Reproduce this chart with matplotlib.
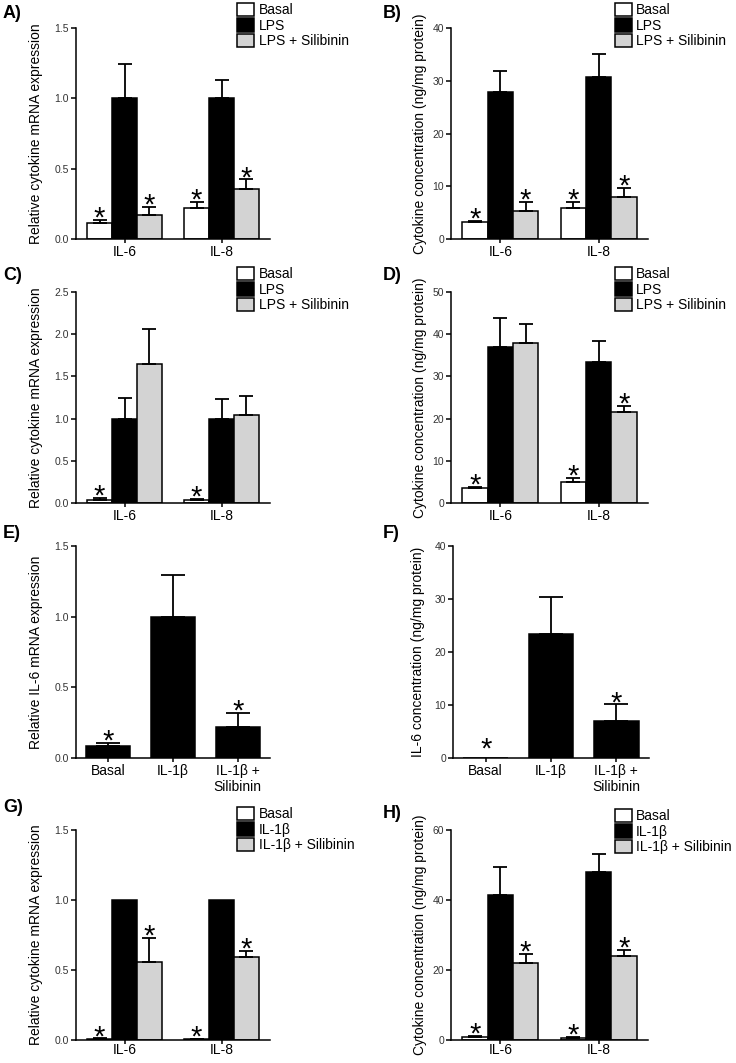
import matplotlib
matplotlib.use("Agg")
import matplotlib.pyplot as plt
from matplotlib.patches import Patch
import numpy as np

plt.rcParams['font.family'] = ['Liberation Sans', 'DejaVu Sans']

groups = ['IL-6', 'IL-8']
lps_labels = ['Basal', 'LPS', 'LPS + Silibinin']
il1b_labels = ['Basal', 'IL-1β', 'IL-1β + Silibinin']
single_labels = ['Basal', 'IL-1β', 'IL-1β +\nSilibinin']

# A) mRNA, LPS
a_basal, a_basal_err = [0.116, 0.218], [0.019, 0.047]
a_lps, a_lps_err = [1.0, 1.0], [0.242, 0.128]
a_sil, a_sil_err = [0.170, 0.357], [0.055, 0.066]
a_stars = [[1, 1], [0, 0], [1, 1]]

# B) protein, LPS
b_basal, b_basal_err = [3.2, 5.9], [0.3, 1.2]
b_lps, b_lps_err = [27.9, 30.8], [4.0, 4.2]
b_sil, b_sil_err = [5.4, 7.9], [1.7, 1.7]
b_stars = [[1, 1], [0, 0], [1, 1]]

# C) mRNA, LPS
c_basal, c_basal_err = [0.040, 0.035], [0.015, 0.012]
c_lps, c_lps_err = [1.0, 1.0], [0.240, 0.228]
c_sil, c_sil_err = [1.646, 1.047], [0.414, 0.221]
c_stars = [[1, 1], [0, 0], [0, 0]]

# D) protein, LPS
d_basal, d_basal_err = [3.5, 5.0], [0.4, 0.9]
d_lps, d_lps_err = [36.9, 33.4], [6.9, 5.1]
d_sil, d_sil_err = [37.9, 21.6], [4.4, 1.5]
d_stars = [[1, 1], [0, 0], [0, 1]]

# E) IL-6 mRNA, IL-1b
e_vals, e_err = [0.083, 1.0, 0.222], [0.026, 0.293, 0.095]
e_stars = [1, 0, 1]

# F) IL-6 protein, IL-1b
f_vals, f_err = [0.0, 23.4, 6.9], [0.0, 6.9, 3.2]
f_stars = [1, 0, 1]

# G) mRNA, IL-1b
g_basal, g_basal_err = [0.008, 0.005], [0.003, 0.002]
g_il1b, g_il1b_err = [1.0, 1.0], [0.0, 0.0]
g_sil, g_sil_err = [0.557, 0.592], [0.170, 0.043]
g_stars = [[1, 1], [0, 0], [1, 1]]

# H) protein, IL-1b
h_basal, h_basal_err = [0.95, 0.66], [0.25, 0.19]
h_il1b, h_il1b_err = [41.3, 48.0], [8.1, 5.1]
h_sil, h_sil_err = [22.1, 24.0], [2.5, 1.8]
h_stars = [[1, 1], [0, 0], [1, 1]]

colors = ['white', 'black', '#d3d3d3']
mrna_label = 'Relative cytokine mRNA expression'
prot_label = 'Cytokine concentration (ng/mg protein)'

W, H = 736, 1063
fig = plt.figure(figsize=(W / 100, H / 100), dpi=100)


def make_ax(x0, y_top, y_bot, width):
    return fig.add_axes([x0 / W, 1 - y_bot / H, width / W, (y_bot - y_top) / H])


def style_ax(ax, ymax, ystep, fmt, label, label_x, xpad=1.0):
    ticks = np.arange(0, ymax + ystep / 2, ystep)
    ax.set_ylim(0, ymax)
    ax.set_yticks(ticks)
    ax.set_yticklabels([fmt % t for t in ticks])
    ax.spines['top'].set_visible(False)
    ax.spines['right'].set_visible(False)
    for s in ['left', 'bottom']:
        ax.spines[s].set_linewidth(1.1)
    ax.tick_params(axis='y', direction='out', length=3.5, width=1.1, labelsize=7.5,
                   labelcolor='#333333', pad=1.5)
    ax.tick_params(axis='x', direction='out', length=3, width=1.1, labelsize=10, pad=xpad)
    ax.set_ylabel(label, fontsize=10)
    ax.yaxis.set_label_coords(label_x, 0.5)


def star(ax, x, top):
    # a star over an empty bar sits a little higher so it clears the tick label
    dy = -4.8 if top > 0 else 0.6
    ax.annotate('*', xy=(x, top), xytext=(0, dy), textcoords='offset points',
                ha='center', va='baseline', fontsize=21, annotation_clip=False)


def grouped(ax, series, errs, stars, legend_labels, leg_y=1.12):
    w = 1.0
    centers = np.array([1.0, 4.9])
    for i, (vals, err) in enumerate(zip(series, errs)):
        xs = centers + (i - 1) * w
        ax.bar(xs, vals, width=w, color=colors[i], edgecolor='black', linewidth=1.1, zorder=2)
        for x, v, e, s in zip(xs, vals, err, stars[i]):
            if e > 0:
                ax.errorbar(x, v, yerr=[[0], [e]], fmt='none', ecolor='black',
                            elinewidth=1.3, capsize=4.7, capthick=1.3, zorder=3)
            if s:
                star(ax, x, v + e)
    ax.set_xlim(-0.95, 6.85)
    ax.set_xticks(centers)
    ax.set_xticklabels(groups)
    handles = [Patch(facecolor=c, edgecolor='black', linewidth=1.1) for c in colors]
    ax.legend(handles, legend_labels, loc='upper left', bbox_to_anchor=(0.83, leg_y),
              frameon=False, fontsize=10, borderaxespad=0, borderpad=0,
              handlelength=1.25, handleheight=1.1, handletextpad=0.3, labelspacing=0.08)


def single(ax, vals, err, stars):
    xs = np.arange(len(vals))
    ax.bar(xs, vals, width=0.68, color='black', edgecolor='black', linewidth=1.1, zorder=2)
    for x, v, e, s in zip(xs, vals, err, stars):
        if e > 0:
            ax.errorbar(x, v, yerr=[[0], [e]], fmt='none', ecolor='black',
                        elinewidth=1.3, capsize=8.5, capthick=1.3, zorder=3)
        if s:
            star(ax, x, v + e)
    ax.set_xlim(-0.5, 2.5)
    ax.set_xticks(xs)
    ax.set_xticklabels(single_labels)


rows = [(28, 239), (292, 503), (546, 758), (830, 1040)]
left_x, left_w = 76, 194
right_x, right_w = 451, 197

ax = make_ax(left_x, *rows[0], left_w)
grouped(ax, [a_basal, a_lps, a_sil], [a_basal_err, a_lps_err, a_sil_err], a_stars, lps_labels)
style_ax(ax, 1.5, 0.5, '%.1f', mrna_label, -0.17)

ax = make_ax(right_x, *rows[0], right_w)
grouped(ax, [b_basal, b_lps, b_sil], [b_basal_err, b_lps_err, b_sil_err], b_stars, lps_labels)
style_ax(ax, 40, 10, '%d', prot_label, -0.12)

ax = make_ax(left_x, *rows[1], left_w)
grouped(ax, [c_basal, c_lps, c_sil], [c_basal_err, c_lps_err, c_sil_err], c_stars, lps_labels)
style_ax(ax, 2.5, 0.5, '%.1f', mrna_label, -0.17)

ax = make_ax(right_x, *rows[1], right_w)
grouped(ax, [d_basal, d_lps, d_sil], [d_basal_err, d_lps_err, d_sil_err], d_stars, lps_labels)
style_ax(ax, 50, 10, '%d', prot_label, -0.12)

ax = make_ax(left_x, *rows[2], left_w)
single(ax, e_vals, e_err, e_stars)
style_ax(ax, 1.5, 0.5, '%.1f', 'Relative IL-6 mRNA expression', -0.17)

ax = make_ax(453, *rows[2], 196)
single(ax, f_vals, f_err, f_stars)
style_ax(ax, 40, 10, '%d', 'IL-6 concentration (ng/mg protein)', -0.143)

ax = make_ax(left_x, *rows[3], left_w)
grouped(ax, [g_basal, g_il1b, g_sil], [g_basal_err, g_il1b_err, g_sil_err], g_stars,
        il1b_labels, leg_y=1.11)
style_ax(ax, 1.5, 0.5, '%.1f', mrna_label, -0.17, xpad=-1.0)

ax = make_ax(right_x, *rows[3], right_w)
grouped(ax, [h_basal, h_il1b, h_sil], [h_basal_err, h_il1b_err, h_sil_err], h_stars,
        il1b_labels, leg_y=1.10)
style_ax(ax, 60, 20, '%d', prot_label, -0.12, xpad=-1.0)

panel_pos = [('A)', 3, 13), ('B)', 383, 13), ('C)', 3, 275), ('D)', 383, 275),
             ('E)', 3, 533), ('F)', 383, 533), ('G)', 3, 808), ('H)', 383, 813)]
for txt, px, py in panel_pos:
    fig.text(px / W, 1 - py / H, txt, fontsize=13, fontweight='bold', ha='left', va='center')

fig.savefig('out.png', dpi=100)
